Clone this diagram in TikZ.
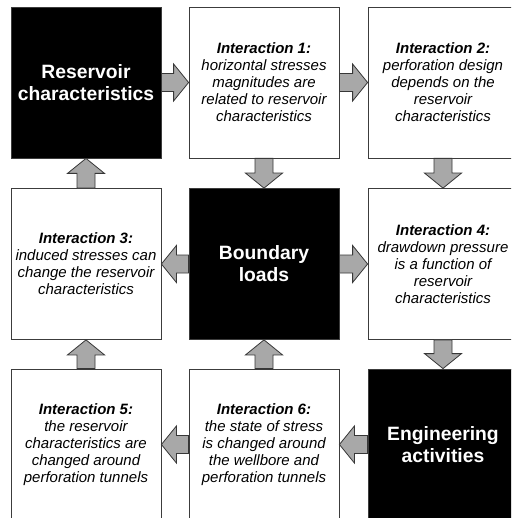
\documentclass[tikz,border=0pt]{standalone}
\usepackage{fontspec}
\setmainfont{Liberation Sans}
\usepackage{tikz}
\usetikzlibrary{calc}
\usepackage{xcolor}
\definecolor{ink}{RGB}{60,60,60}
\definecolor{arfill}{RGB}{168,168,168}
\definecolor{arline}{RGB}{55,55,55}
\tikzset{
  cell/.style={draw=ink,line width=0.8pt,minimum width=150pt,minimum height=151pt,
    inner sep=0pt,align=center},
  blk/.style={cell,fill=black,text=white,font=\fontsize{19.3}{22}\selectfont\bfseries},
  wht/.style={cell,fill=white,font=\fontsize{15}{17}\selectfont\itshape},
  fat/.style={fill=arfill,draw=arline,line width=0.8pt,line join=miter},
}
% block arrow from one anchor to another
\newcommand{\fatar}[2]{%
  \coordinate (hb) at ($(#2)!15pt!(#1)$);
  \draw[fat] ($(#1)!9pt!90:(#2)$) -- ($(hb)!9pt!90:(#2)$) -- ($(hb)!18.5pt!90:(#2)$)
    -- (#2) -- ($(hb)!18.5pt!-90:(#2)$) -- ($(hb)!9pt!-90:(#2)$)
    -- ($(#1)!9pt!-90:(#2)$) -- cycle;}
\newcommand{\ia}[1]{\textbf{Interaction #1:}}

\begin{document}
\begin{tikzpicture}[x=1pt,y=-1pt]
  \useasboundingbox (0,0) rectangle (511,518);
  \clip (0,0) rectangle (511,518);
  % top row
  \node[blk] (res)  at (86,82.5)  {Reservoir\\characteristics};
  \node[wht] (int1) at (264,82.5) {\ia{1}\\horizontal stresses\\magnitudes are\\related to reservoir\\characteristics};
  \node[wht] (int2) at (443,82.5) {\ia{2}\\perforation design\\depends on the\\reservoir\\characteristics};
  % middle row
  \node[wht] (int3) at (86,264)   {\ia{3}\\induced stresses can\\change the reservoir\\characteristics};
  \node[blk] (bnd)  at (264,264)  {Boundary\\loads};
  \node[wht] (int4) at (443,264)  {\ia{4}\\drawdown pressure\\is a function of\\reservoir\\characteristics};
  % bottom row
  \node[wht] (int5) at (86,444.5) {\ia{5}\\the reservoir\\characteristics are\\changed around\\perforation tunnels};
  \node[wht] (int6) at (264,444.5){\ia{6}\\the state of stress\\is changed around\\the wellbore and\\perforation tunnels};
  \node[blk] (eng)  at (443,444.5){Engineering\\activities};
  % arrows
  \fatar{res.east}{int1.west}
  \fatar{int1.east}{int2.west}
  \fatar{int1.south}{bnd.north}
  \fatar{int2.south}{int4.north}
  \fatar{bnd.west}{int3.east}
  \fatar{bnd.east}{int4.west}
  \fatar{int3.north}{res.south}
  \fatar{int4.south}{eng.north}
  \fatar{eng.west}{int6.east}
  \fatar{int6.west}{int5.east}
  \fatar{int6.north}{bnd.south}
  \fatar{int5.north}{int3.south}
\end{tikzpicture}
\end{document}
